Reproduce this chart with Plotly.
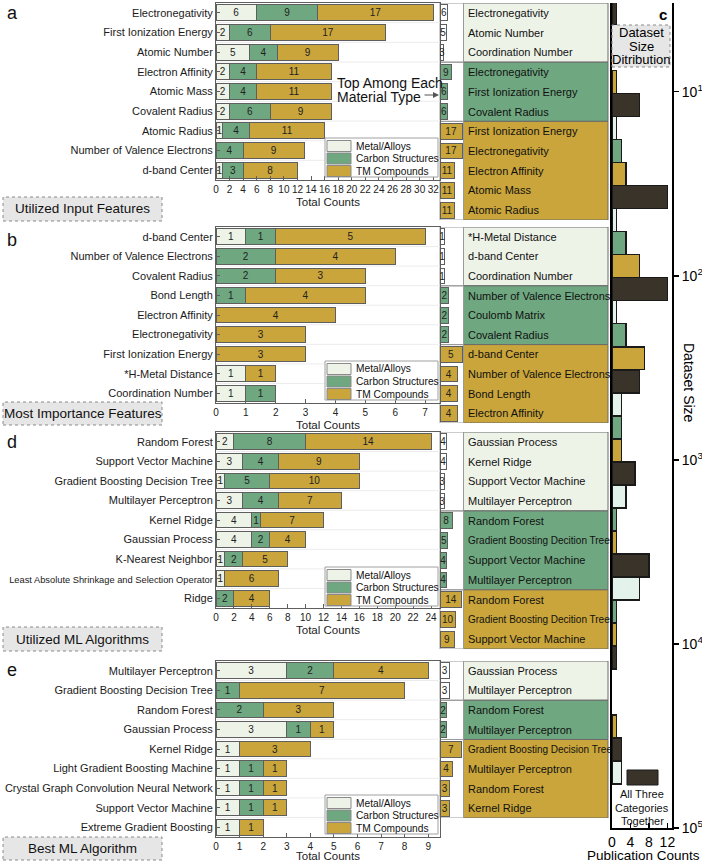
import plotly.graph_objects as go

W, H = 702, 862
def px(x): return x / W
def py(y): return 1 - y / H

FONT = 'Arial, "Liberation Sans", sans-serif'
METAL = '#EEF3E8'
CARBON = '#6FA780'
TM = '#C9A53B'
DARK = '#3A3329'
METAL_C = '#E4F2EC'
EDGE = '#5e5e5e'

group_names = ['Metal/Alloys', 'Carbon Structures', 'TM Compounds']

# ---------------- data: panel a ----------------
a_features = ["Electronegativity", "First Ionization Energy", "Atomic Number", "Electron Affinity",
              "Atomic Mass", "Covalent Radius", "Atomic Radius", "Number of Valence Electrons", "d-band Center"]
a_metal = [6, 2, 5, 2, 2, 2, 1, 0, 1]
a_carbon = [9, 6, 4, 4, 4, 6, 4, 4, 3]
a_tm = [17, 17, 9, 11, 11, 9, 11, 9, 8]
a_top_labels = ["Electronegativity", "Atomic Number", "Coordination Number",
                "Electronegativity", "First Ionization Energy", "Covalent Radius",
                "First Ionization Energy", "Electronegativity", "Electron Affinity", "Atomic Mass", "Atomic Radius"]
a_top_values = [6, 5, 3, 9, 6, 6, 17, 17, 11, 11, 11]
a_top_groups = ["M", "M", "M", "C", "C", "C", "T", "T", "T", "T", "T"]

# ---------------- data: panel b ----------------
b_features = ["d-band Center", "Number of Valence Electrons", "Covalent Radius", "Bond Length",
              "Electron Affinity", "Electronegativity", "First Ionization Energy", "*H-Metal Distance",
              "Coordination Number"]
b_metal = [1, 0, 0, 0, 0, 0, 0, 1, 1]
b_carbon = [1, 2, 2, 1, 0, 0, 0, 0, 1]
b_tm = [5, 4, 3, 4, 4, 3, 3, 1, 0]
b_top_labels = ["*H-Metal Distance", "d-band Center", "Coordination Number",
                "Number of Valence Electrons", "Coulomb Matrix", "Covalent Radius",
                "d-band Center", "Number of Valence Electrons", "Bond Length", "Electron Affinity"]
b_top_values = [1, 1, 1, 2, 2, 2, 5, 4, 4, 4]
b_top_groups = ["M", "M", "M", "C", "C", "C", "T", "T", "T", "T"]

# ---------------- data: panel d ----------------
d_algos = ["Random Forest", "Support Vector Machine", "Gradient Boosting Decision Tree", "Multilayer Perceptron",
           "Kernel Ridge", "Gaussian Process", "K-Nearest Neighbor",
           "Least Absolute Shrinkage and Selection Operator", "Ridge"]
d_metal = [2, 3, 1, 3, 4, 4, 1, 1, 0]
d_carbon = [8, 4, 5, 4, 1, 2, 2, 0, 2]
d_tm = [14, 9, 10, 7, 7, 4, 5, 6, 4]
d_top_labels = ["Gaussian Process", "Kernel Ridge", "Support Vector Machine", "Multilayer Perceptron",
                "Random Forest", "Gradient Boosting Decition Tree", "Support Vector Machine", "Multilayer Perceptron",
                "Random Forest", "Gradient Boosting Decition Tree", "Support Vector Machine"]
d_top_values = [4, 4, 3, 3, 8, 5, 4, 4, 14, 10, 9]
d_top_groups = ["M", "M", "M", "M", "C", "C", "C", "C", "T", "T", "T"]

# ---------------- data: panel e ----------------
e_algos = ["Multilayer Perceptron", "Gradient Boosting Decision Tree", "Random Forest", "Gaussian Process",
           "Kernel Ridge", "Light Gradient Boosting Machine", "Crystal Graph Convolution Neural Network",
           "Support Vector Machine", "Extreme Gradient Boosting"]
e_metal = [3, 0, 0, 3, 1, 1, 1, 1, 1]
e_carbon = [2, 1, 2, 1, 0, 1, 1, 1, 0]
e_tm = [4, 7, 3, 1, 3, 1, 1, 1, 1]
e_top_labels = ["Gaussian Process", "Multilayer Perceptron", "Random Forest", "Multilayer Perceptron",
                "Gradient Boosting Decision Tree", "Multilayer Perceptron", "Random Forest", "Kernel Ridge"]
e_top_values = [3, 3, 2, 2, 7, 4, 3, 3]
e_top_groups = ["M", "M", "C", "C", "T", "T", "T", "T"]

# ---------------- data: panel c (dataset size distribution) ----------------
c_bin_log_start = [0.136, 0.636, 1.136, 1.636, 2.136, 2.636, 3.136, 3.636, 4.136, 4.636]
c_metal = [0, 0, 1, 1, 1, 2, 3, 6, 0, 2]
c_carbon = [0, 0, 2, 3, 3, 2, 1, 1, 0, 0]
c_tm = [0, 1, 3, 6, 7, 2, 1, 1, 1, 0]
c_all = [1, 6, 12, 12, 6, 5, 8, 1, 2, 0]
c_ticks_log = [1, 2, 3, 4, 5]
c_count_ticks = [0, 4, 8, 12]

panel_titles = ["Utilized Input Features", "Most Importance Features", "Utilized ML Algorithms", "Best ML Algorithm"]

# ---------------- layout config ----------------
cfgs = [
    dict(idx=1, labels=a_features, m=a_metal, c=a_carbon, t=a_tm, top=3, bot=180, xmax=33.0, dtick=2,
         tl=a_top_labels, tv=a_top_values, tg=a_top_groups, mid_bot=220, mid_max=18,
         letter='a', letter_y=13, tb=(197, 221), leg=138),
    dict(idx=2, labels=b_features, m=b_metal, c=b_carbon, t=b_tm, top=227, bot=403, xmax=7.5, dtick=1,
         tl=b_top_labels, tv=b_top_values, tg=b_top_groups, mid_bot=423, mid_max=5.3,
         letter='b', letter_y=240, tb=(402, 425), leg=361),
    dict(idx=3, labels=d_algos, m=d_metal, c=d_carbon, t=d_tm, top=432, bot=608, xmax=25.0, dtick=2,
         tl=d_top_labels, tv=d_top_values, tg=d_top_groups, mid_bot=649, mid_max=15,
         letter='d', letter_y=442, tb=(627, 651), leg=567),
    dict(idx=4, labels=e_algos, m=e_metal, c=e_carbon, t=e_tm, top=661, bot=837, xmax=9.5, dtick=1,
         tl=e_top_labels, tv=e_top_values, tg=e_top_groups, mid_bot=818, mid_max=7.5,
         letter='e', letter_y=670, tb=(837, 860), leg=795),
]

gcolor = {"M": METAL, "C": CARBON, "T": TM}
gbar = {"M": '#FFFFFF', "C": CARBON, "T": TM}

fig = go.Figure()
layout = {}
shapes = []
annots = []

def ax_name(i):
    return '' if i == 1 else str(i)

for k, cfg in enumerate(cfgs):
    i = cfg['idx']
    a = ax_name(i)
    n = len(cfg['labels'])
    ys = list(range(n))
    for vals, col in ((cfg['m'], METAL), (cfg['c'], CARBON), (cfg['t'], TM)):
        fig.add_trace(go.Bar(
            x=[v if v else None for v in vals], y=ys, orientation='h', width=0.8,
            marker=dict(color=col, line=dict(color=EDGE, width=1)),
            text=[str(v) if v else None for v in vals], textposition='inside',
            insidetextanchor='middle', constraintext='none', textangle=0,
            textfont=dict(size=10, color='#222', family=FONT),
            xaxis='x' + a, yaxis='y' + a, showlegend=False, hoverinfo='skip'))
    ticktext = []
    for lab in cfg['labels']:
        if len(lab) > 42:
            ticktext.append('<span style="font-size:9.3px">%s</span>' % lab)
        else:
            ticktext.append(lab)
    layout['xaxis' + a] = dict(
        domain=[px(216), px(440)], range=[0, cfg['xmax']], tick0=0, dtick=cfg['dtick'],
        ticks='inside', ticklen=4, tickcolor=EDGE, showline=True, mirror=True, linecolor=EDGE,
        showgrid=False, zeroline=False, tickfont=dict(size=10, color='#222'),
        title=dict(text='Total Counts', font=dict(size=11.5, color='#222'), standoff=3),
        anchor='y' + a, fixedrange=True, automargin=False)
    layout['yaxis' + a] = dict(
        domain=[py(cfg['bot']), py(cfg['top'])], range=[n - 0.5, -0.5], tickvals=ys, ticktext=ticktext,
        ticks='inside', ticklen=4, tickcolor=EDGE, showline=True, mirror=True, linecolor=EDGE,
        showgrid=False, zeroline=False, tickfont=dict(size=11, color='#1a1a1a'),
        anchor='x' + a, fixedrange=True, automargin=False)
    # faint row separators
    for r in range(n - 1):
        shapes.append(dict(type='line', xref='x' + a, yref='y' + a, x0=0, x1=cfg['xmax'],
                           y0=r + 0.5, y1=r + 0.5, line=dict(color='#ececec', width=1), layer='below'))

    # middle "top among each type" panel
    mi = 5 + k
    ma = str(mi)
    tl, tv, tg = cfg['tl'], cfg['tv'], cfg['tg']
    nm = len(tl)
    yms = list(range(nm))
    fig.add_trace(go.Bar(
        x=tv, y=yms, orientation='h', width=0.8,
        marker=dict(color=[gbar[g] for g in tg], line=dict(color=EDGE, width=1)),
        text=[str(v) for v in tv], textposition='inside', insidetextanchor='middle',
        constraintext='none', textangle=0, textfont=dict(size=10, color='#222', family=FONT),
        xaxis='x' + ma, yaxis='y' + ma, showlegend=False, hoverinfo='skip'))
    layout['xaxis' + ma] = dict(domain=[px(440), px(463.5)], range=[0, cfg['mid_max']], visible=False,
                                anchor='y' + ma, fixedrange=True, automargin=False)
    layout['yaxis' + ma] = dict(domain=[py(cfg['mid_bot']), py(cfg['top'])], range=[nm - 0.5, -0.5],
                                visible=False, anchor='x' + ma, fixedrange=True, automargin=False)
    # group blocks
    start = 0
    for j in range(1, nm + 1):
        if j == nm or tg[j] != tg[start]:
            g = tg[start]
            shapes.append(dict(type='rect', xref='paper', yref='y' + ma, x0=px(463.5), x1=px(608),
                               y0=start - 0.5, y1=j - 0.5, fillcolor=gcolor[g],
                               line=dict(color='#6a6a6a', width=1), layer='below'))
            shapes.append(dict(type='rect', xref='paper', yref='y' + ma, x0=px(440), x1=px(463.5),
                               y0=start - 0.5, y1=j - 0.5, fillcolor='rgba(0,0,0,0)',
                               line=dict(color='#9a9a9a', width=1), layer='below'))
            start = j
    for r, lab in enumerate(tl):
        annots.append(dict(text=lab, xref='paper', yref='y' + ma, x=px(465.5), y=r, xanchor='left',
                           yanchor='middle', showarrow=False,
                           font=dict(size=10 if len(lab) > 28 else 11, color='#111')))

    # panel letter
    annots.append(dict(text=cfg['letter'], xref='paper', yref='paper', x=px(5), y=py(cfg['letter_y']),
                       xanchor='left', yanchor='middle', showarrow=False, font=dict(size=18, color='#111')))
    # title box
    y0, y1 = cfg['tb']
    shapes.append(dict(type='rect', xref='paper', yref='paper', x0=px(3), x1=px(162), y0=py(y1), y1=py(y0),
                       fillcolor='#E6E6E6', line=dict(color='#8a8a8a', width=1, dash='dot')))
    annots.append(dict(text=panel_titles[k], xref='paper', yref='paper', x=px(82.5), y=py((y0 + y1) / 2),
                       xanchor='center', yanchor='middle', showarrow=False, font=dict(size=13.5, color='#111')))
    # legend box
    lt = cfg['leg']
    shapes.append(dict(type='rect', xref='paper', yref='paper', x0=px(325), x1=px(438), y0=py(lt + 39),
                       y1=py(lt), fillcolor='white', line=dict(color='#a0a0a0', width=1)))
    for q, (nmz, col) in enumerate(zip(group_names, (METAL, CARBON, TM))):
        yc = lt + 8 + 12.5 * q
        shapes.append(dict(type='rect', xref='paper', yref='paper', x0=px(327), x1=px(351),
                           y0=py(yc + 5.5), y1=py(yc - 5.5), fillcolor=col,
                           line=dict(color='#8a8a8a', width=1)))
        annots.append(dict(text=nmz, xref='paper', yref='paper', x=px(353.5), y=py(yc), xanchor='left',
                           yanchor='middle', showarrow=False, font=dict(size=10.2, color='#111')))

# ---------------- panel c ----------------
slot_h = 0.125
for s, (vals, col) in enumerate(((c_metal, METAL_C), (c_carbon, CARBON), (c_tm, TM), (c_all, DARK))):
    yy = [b + slot_h * (s + 0.5) for b, v in zip(c_bin_log_start, vals) if v]
    xx = [v for v in vals if v]
    fig.add_trace(go.Bar(x=xx, y=yy, orientation='h', width=slot_h * 0.999,
                         marker=dict(color=col, line=dict(color='#1a1a1a', width=1.3)),
                         xaxis='x9', yaxis='y9', showlegend=False, hoverinfo='skip'))
layout['xaxis9'] = dict(domain=[px(612), px(672)], range=[0, 13], tickvals=c_count_ticks,
                        ticks='inside', ticklen=5, tickwidth=1.5, tickcolor='black', showline=True,
                        linecolor='black', linewidth=2, showgrid=False, zeroline=False,
                        tickfont=dict(size=14, color='black'),
                        anchor='y9', fixedrange=True, automargin=False)
layout['yaxis9'] = dict(domain=[py(828), py(3)], range=[5, 0.518], side='right', tickvals=c_ticks_log,
                        ticktext=['10<sup>%d</sup>' % t for t in c_ticks_log], ticks='outside', ticklen=5,
                        tickwidth=1.5, tickcolor='black', showline=True, mirror=True, linecolor='black',
                        linewidth=2, showgrid=False, zeroline=False, tickfont=dict(size=14, color='black'),
                        anchor='x9', fixedrange=True, automargin=False)
annots.append(dict(text='Publication Counts', xref='paper', yref='paper', x=px(643), y=py(855.5),
                   xanchor='center', yanchor='middle', showarrow=False, font=dict(size=13.5, color='black')))
annots.append(dict(text='Dataset Size', xref='paper', yref='paper', x=px(689), y=py(383), textangle=90,
                   xanchor='center', yanchor='middle', showarrow=False, font=dict(size=14, color='black')))
annots.append(dict(text='<b>c</b>', xref='paper', yref='paper', x=px(663), y=py(14), xanchor='center',
                   yanchor='middle', showarrow=False, font=dict(size=15, color='black')))
shapes.append(dict(type='rect', xref='paper', yref='paper', x0=px(612), x1=px(670), y0=py(67), y1=py(25),
                   fillcolor='#E6E6E6', line=dict(color='#8a8a8a', width=1, dash='dot')))
for txt, yv in (('Dataset', 33), ('Size', 46.5), ('Ditribution', 60)):
    annots.append(dict(text=txt, xref='paper', yref='paper', x=px(641), y=py(yv), xanchor='center',
                       yanchor='middle', showarrow=False, font=dict(size=13, color='black')))
shapes.append(dict(type='rect', xref='paper', yref='paper', x0=px(627), x1=px(658), y0=py(785), y1=py(770),
                   fillcolor=DARK, line=dict(color='#1a1a1a', width=1)))
for txt, yv in (('All Three', 794), ('Categories', 807.5), ('Together', 821)):
    annots.append(dict(text=txt, xref='paper', yref='paper', x=px(642), y=py(yv), xanchor='center',
                       yanchor='middle', showarrow=False, font=dict(size=11, color='#111')))

# "Top Among Each Material Type" note
annots.append(dict(text='Top Among Each', xref='paper', yref='paper', x=px(335), y=py(83), xanchor='left',
                   yanchor='middle', showarrow=False, font=dict(size=14, color='#111')))
annots.append(dict(text='Material Type', xref='paper', yref='paper', x=px(335), y=py(97), xanchor='left',
                   yanchor='middle', showarrow=False, font=dict(size=14, color='#111')))
annots.append(dict(text='', xref='paper', yref='paper', x=px(439), y=py(95), axref='pixel', ayref='pixel',
                   ax=-16, ay=0, showarrow=True, arrowhead=2, arrowsize=1, arrowwidth=1.2,
                   arrowcolor='#555'))

fig.update_layout(
    width=W, height=H, margin=dict(l=0, r=0, t=0, b=0, pad=0, autoexpand=False),
    paper_bgcolor='white', plot_bgcolor='white', barmode='stack', bargap=0.2,
    font=dict(family=FONT, color='#111'), showlegend=False,
    shapes=shapes, annotations=annots, **layout)

fig.write_html("out.html", config={'displayModeBar': False, 'staticPlot': True},
               post_script="document.body.style.margin='0';document.body.style.overflow='hidden';")
